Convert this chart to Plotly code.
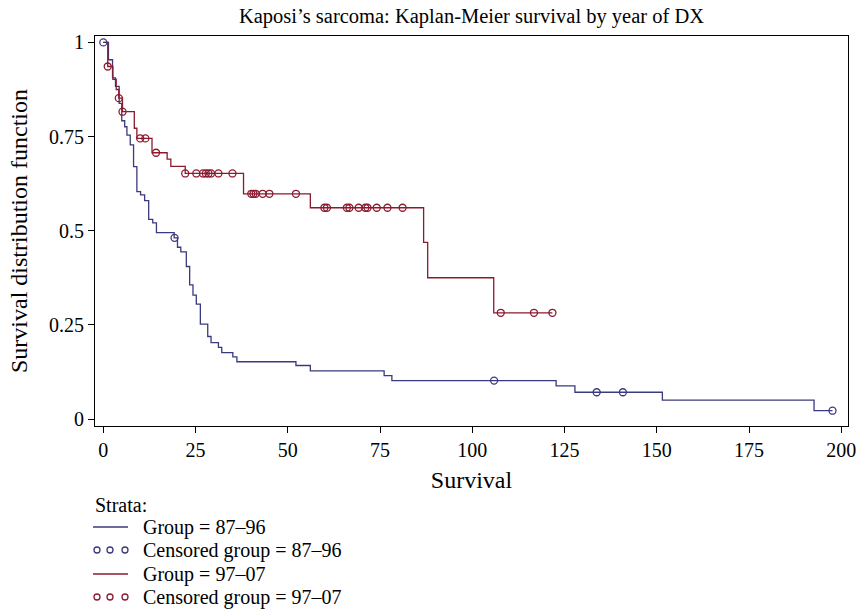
import plotly.graph_objects as go

# ---- data ----
blue_t = [0, 1.4, 2.5, 3.3, 4.3, 5.0, 5.8, 6.4, 7.3, 8.2, 9.1, 10.1, 11.2, 12.3, 13.4, 14.4,
          19.2, 20.1, 21.0, 22.5, 23.4, 24.3, 25.2, 26.3, 28.3, 29.2, 31.2, 32.1, 35.1, 36.2,
          52.2, 56.1, 76.1, 78.2, 122.7, 127.8, 151.5, 192.6, 197.6]
blue_s = [1.0, 0.954, 0.906, 0.883, 0.838, 0.792, 0.776, 0.754, 0.728, 0.670, 0.604, 0.595, 0.580, 0.530, 0.521, 0.495,
          0.481, 0.456, 0.444, 0.405, 0.356, 0.329, 0.305, 0.252, 0.219, 0.203, 0.190, 0.176, 0.165, 0.152,
          0.142, 0.128, 0.115, 0.102, 0.088, 0.071, 0.050, 0.022, 0.022]
blue_cens_t = [0, 19.3, 105.9, 133.7, 140.8, 197.6]
blue_cens_s = [1.0, 0.481, 0.102, 0.071, 0.071, 0.022]

red_t = [0, 1.2, 2.6, 3.5, 4.2, 5.2, 8.4, 9.1, 13.2, 17.3, 18.3, 22.2, 38.0, 56.1, 86.8, 87.9, 105.8, 121.7]
red_s = [1.0, 0.936, 0.902, 0.875, 0.852, 0.816, 0.772, 0.745, 0.707, 0.690, 0.671, 0.652, 0.598, 0.561,
         0.469, 0.375, 0.282, 0.282]
red_cens_t = [1.2, 4.2, 5.2, 10.0, 11.4, 14.3, 22.2, 25.2, 27.0, 27.8, 28.5, 29.2, 31.2, 35.0,
              40.1, 40.7, 41.3, 43.2, 45.0, 52.2, 59.9, 60.6, 66.0, 66.7, 69.2, 71.0, 71.6, 74.1, 77.0, 81.1,
              107.7, 116.7, 121.7]
red_cens_s = [0.936, 0.852, 0.816, 0.745, 0.745, 0.707] + [0.652] * 8 + [0.598] * 6 + [0.561] * 10 + [0.282] * 3

x_ticks = [0, 25, 50, 75, 100, 125, 150, 175, 200]
y_ticks = [0, 0.25, 0.5, 0.75, 1]
y_ticklabels = ["0", "0.25", "0.5", "0.75", "1"]

legend_labels = ["Group = 87–96", "Censored group = 87–96", "Group = 97–07", "Censored group = 97–07"]

BLUE = "#3a3a7e"
RED = "#8c1a2e"
FONT = "Liberation Serif"
FS = 20

W, H = 857, 609
ML, MR, MT, MB = 95, 9, 36, 183
PW, PH = W - ML - MR, H - MT - MB

fig = go.Figure()
fig.add_trace(go.Scatter(x=blue_t, y=blue_s, mode="lines", line=dict(color=BLUE, width=1.3, shape="hv"),
                         showlegend=False, hoverinfo="skip"))
fig.add_trace(go.Scatter(x=red_t, y=red_s, mode="lines", line=dict(color=RED, width=1.3, shape="hv"),
                         showlegend=False, hoverinfo="skip"))
fig.add_trace(go.Scatter(x=blue_cens_t, y=blue_cens_s, mode="markers",
                         marker=dict(symbol="circle-open", size=7, color=BLUE, line=dict(width=1.3)),
                         showlegend=False))
fig.add_trace(go.Scatter(x=red_cens_t, y=red_cens_s, mode="markers",
                         marker=dict(symbol="circle-open", size=7, color=RED, line=dict(width=1.3)),
                         showlegend=False))

def px_x(p):
    return (p - ML) / PW

def px_y(p):
    return (H - MB - p) / PH

# manual legend (SAS style)
annotations = [dict(text="Strata:", x=px_x(93), y=px_y(505), xref="paper", yref="paper",
                    xanchor="left", yanchor="middle", showarrow=False,
                    font=dict(family=FONT, size=FS, color="black"))]
shapes = []
rows_y = [527, 550, 574, 597]
colors = [BLUE, BLUE, RED, RED]
kinds = ["line", "circ", "line", "circ"]
for lab, ry, c, k in zip(legend_labels, rows_y, colors, kinds):
    annotations.append(dict(text=lab, x=px_x(141), y=px_y(ry), xref="paper", yref="paper",
                            xanchor="left", yanchor="middle", showarrow=False,
                            font=dict(family=FONT, size=FS, color="black")))
    if k == "line":
        shapes.append(dict(type="line", xref="paper", yref="paper", x0=px_x(93), x1=px_x(128),
                           y0=px_y(ry), y1=px_y(ry), line=dict(color=c, width=1.3)))
    else:
        for cx in [97, 110, 125]:
            shapes.append(dict(type="circle", xref="paper", yref="paper",
                               x0=px_x(cx - 3), x1=px_x(cx + 3), y0=px_y(ry + 3), y1=px_y(ry - 3),
                               line=dict(color=c, width=1.3)))

fig.update_layout(
    width=W, height=H,
    margin=dict(l=ML, r=MR, t=MT, b=MB, pad=0, autoexpand=False),
    paper_bgcolor="white", plot_bgcolor="white",
    font=dict(family=FONT, size=FS, color="black"),
    title=dict(text="Kaposi’s sarcoma: Kaplan-Meier survival by year of DX",
               x=(ML + PW / 2) / W, xanchor="center", y=1 - 16 / H, yanchor="middle",
               font=dict(family=FONT, size=20.5, color="black")),
    xaxis=dict(range=[-2.25, 201.8], tickvals=x_ticks, ticks="outside", ticklen=6, tickwidth=1,
               tickcolor="black", showgrid=False, zeroline=False, showline=True, linecolor="black",
               linewidth=1, mirror=True, automargin=False,
               title=dict(text="Survival", standoff=11),
               tickfont=dict(family=FONT, size=FS)),
    yaxis=dict(range=[-0.0186, 1.017], tickvals=y_ticks, ticktext=y_ticklabels, ticks="outside",
               ticklen=6, tickwidth=1, tickcolor="black", showgrid=False, zeroline=False,
               showline=True, linecolor="black", linewidth=1, mirror=True, automargin=False,
               title=dict(text="Survival distribution function", standoff=14),
               tickfont=dict(family=FONT, size=FS)),
    annotations=annotations,
    shapes=shapes,
)

fig.write_html("out.html", config={"displayModeBar": False},
               post_script="document.body.style.margin='0px';document.body.style.overflow='hidden';")
